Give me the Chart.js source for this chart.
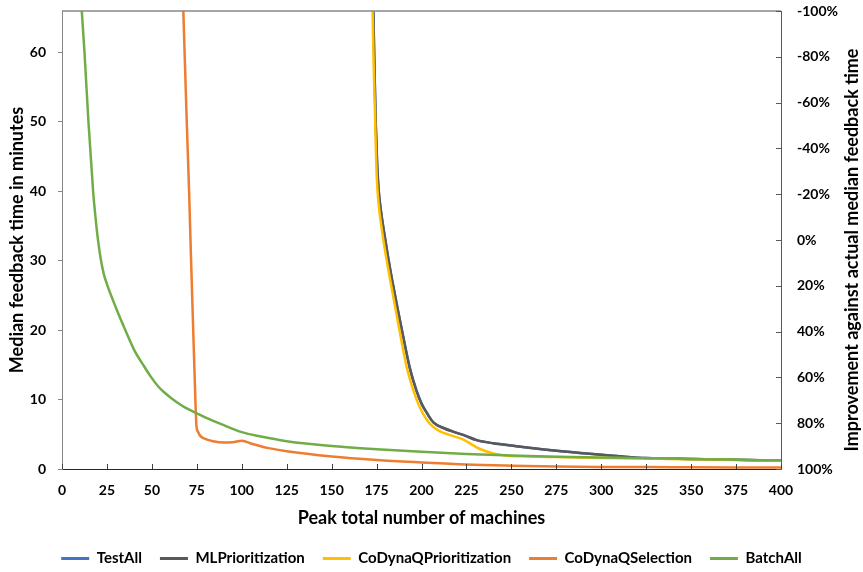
<!DOCTYPE html>
<html>
<head>
<meta charset="utf-8">
<script src="https://cdn.jsdelivr.net/npm/chart.js@4/dist/chart.umd.min.js"></script>
<style>
html,body{margin:0;padding:0;background:#fff;}
#wrap{width:863px;height:572px;position:relative;}
</style>
</head>
<body>
<div id="wrap"><canvas id="c" width="863" height="572"></canvas></div>
<script>
// ---- data ----
const seriesNames = ["TestAll", "MLPrioritization", "CoDynaQPrioritization", "CoDynaQSelection", "BatchAll"];
const seriesColors = ["#4472C4", "#595959", "#FFC000", "#ED7D31", "#70AD47"];

const mlX = [173.2, 173.8, 174.5, 175.3, 176.2, 177.5, 178.8, 181.2, 183.8, 186.6, 190, 193.6, 197.3, 200.1, 202.9, 206.6, 212.2, 219.6, 224.2, 230.7, 240, 251, 269.6, 288.2, 300, 312, 325, 350, 375, 400];
const mlY = [65.9, 58, 50, 44, 40, 37, 34.7, 30.8, 27, 23.2, 18.8, 14.4, 11.2, 9.37, 8.1, 6.7, 5.9, 5.2, 4.8, 4.16, 3.7, 3.34, 2.76, 2.3, 2.06, 1.8, 1.58, 1.43, 1.32, 1.21];

const testAllX = mlX;
const testAllY = mlY;

const cdqPrioX = [172.8, 173.4, 174.1, 174.6, 175.1, 176.2, 177.8, 180, 182.3, 184.5, 188, 191.8, 195.5, 198.2, 201, 204.7, 210.3, 216.8, 222.4, 227, 232.5, 240, 247.4, 260, 275, 300, 325, 350, 375, 400];
const cdqPrioY = [65.9, 58, 51.5, 46, 42, 38, 34.7, 31, 27.6, 24.5, 19.6, 14.6, 11.3, 9.37, 7.9, 6.5, 5.42, 4.8, 4.32, 3.69, 2.88, 2.25, 1.92, 1.8, 1.72, 1.6, 1.5, 1.4, 1.3, 1.19];

const cdqSelX = [67.5, 69.4, 70.7, 71.7, 73.0, 74.2, 74.8, 75.6, 76.8, 80, 84, 90, 95, 100, 106, 115, 125, 150, 175, 200, 225, 250, 275, 300, 325, 350, 375, 400];
const cdqSelY = [65.9, 50, 40, 31, 20, 10, 6.2, 5.4, 4.8, 4.3, 4.0, 3.8, 3.85, 4.08, 3.6, 3.0, 2.55, 1.8, 1.3, 0.95, 0.65, 0.48, 0.36, 0.3, 0.27, 0.25, 0.23, 0.22];

const batchX = [11.0, 12.5, 14.7, 17.3, 18.6, 20, 21.7, 23.3, 25, 30, 35.2, 40.4, 45, 49.1, 53.8, 57, 61.2, 66.8, 70, 75, 80, 90, 100, 110, 125, 150, 175, 200, 225, 250, 275, 300, 325, 350, 375, 400];
const batchY = [65.9, 60, 50, 40, 36.3, 33, 30, 28, 26.6, 23.2, 20, 17, 15.05, 13.4, 11.8, 11.0, 10.1, 9.1, 8.65, 8.0, 7.4, 6.3, 5.3, 4.7, 4.0, 3.3, 2.85, 2.48, 2.17, 1.93, 1.77, 1.65, 1.55, 1.45, 1.33, 1.22];

const xTicksStep = 25;
const leftTicksStep = 10;
const rightTicksStep = 20;
const leftMax = 65.9;

const xTitle = "Peak total number of machines";
const leftTitle = "Median feedback time in minutes";
const rightTitle = "Improvement against actual median feedback time";

// ---- build ----
function pts(xs, ys){ return xs.map((x,i)=>({x:x, y:ys[i]})); }
const seriesData = [pts(testAllX,testAllY), pts(mlX,mlY), pts(cdqPrioX,cdqPrioY), pts(cdqSelX,cdqSelY), pts(batchX,batchY)];
const drawOrder = [5,4,3,2,1];

const FONT = "Lato, 'Open Sans', sans-serif";

const datasets = seriesNames.map((n,i)=>({
  label:n,
  data:seriesData[i],
  borderColor:seriesColors[i],
  backgroundColor:seriesColors[i],
  borderWidth:2.5,
  pointRadius:0,
  pointHoverRadius:0,
  cubicInterpolationMode:'monotone',
  order:drawOrder[i],
  yAxisID:'y'
}));

const framePlugin = {
  id:'frame',
  afterDatasetsDraw(chart){
    const ctx = chart.ctx, a = chart.chartArea;
    const xs = chart.scales.x, yr = chart.scales.y2;
    ctx.save();
    // top border
    ctx.strokeStyle = '#898989'; ctx.lineWidth = 1.5;
    ctx.beginPath(); ctx.moveTo(a.left, a.top); ctx.lineTo(a.right, a.top); ctx.stroke();
    // x inner ticks
    ctx.strokeStyle = '#404040'; ctx.lineWidth = 1;
    xs.ticks.forEach(t=>{
      const px = Math.round(xs.getPixelForValue(t.value))+0.5;
      ctx.beginPath(); ctx.moveTo(px, a.bottom); ctx.lineTo(px, a.bottom-5); ctx.stroke();
    });
    // right inner ticks
    ctx.strokeStyle = '#595959';
    yr.ticks.forEach(t=>{
      const py = Math.round(yr.getPixelForValue(t.value))+0.5;
      ctx.beginPath(); ctx.moveTo(a.right, py); ctx.lineTo(a.right-5, py); ctx.stroke();
    });
    // right title (reads bottom to top)
    ctx.fillStyle = '#000';
    ctx.font = "bold 18px " + FONT;
    ctx.textAlign = 'center'; ctx.textBaseline = 'middle';
    ctx.translate(852, 250);
    ctx.rotate(-Math.PI/2);
    ctx.fillText(rightTitle, 0, 0);
    ctx.restore();
  }
};

function fixV(width){
  return function(s){ s.width = width; s.paddingTop = 0; s.paddingBottom = 0; };
}

new Chart(document.getElementById('c'), {
  type:'line',
  data:{datasets:datasets},
  plugins:[framePlugin],
  options:{
    responsive:false,
    animation:false,
    layout:{padding:{top:11, left:0, right:0, bottom:-4}},
    plugins:{
      tooltip:{enabled:false},
      legend:{
        position:'bottom',
        labels:{
          font:{family:FONT, size:15, weight:'bold'},
          color:'#000',
          boxWidth:28,
          boxHeight:3,
          padding:18,
          sort:(a,b)=>a.datasetIndex-b.datasetIndex,
          generateLabels(chart){
            const items = Chart.defaults.plugins.legend.labels.generateLabels(chart);
            return items.map(it=>Object.assign(it,{lineWidth:0, fillStyle:it.strokeStyle}));
          }
        }
      }
    },
    scales:{
      x:{
        type:'linear', min:0, max:400,
        ticks:{stepSize:xTicksStep, color:'#000', font:{family:FONT, size:14, weight:'bold'}, padding:13, maxRotation:0, autoSkip:false},
        grid:{display:true, drawOnChartArea:false, drawTicks:false},
        border:{display:true, color:'#262626', width:1},
        title:{display:true, text:xTitle, color:'#000', font:{family:FONT, size:18, weight:'bold', lineHeight:1.6}, padding:{top:4,bottom:0}},
        afterFit(s){ s.height = 64; }
      },
      y:{
        type:'linear', position:'left', min:0, max:leftMax,
        ticks:{stepSize:leftTicksStep, includeBounds:false, color:'#000', font:{family:FONT, size:14, weight:'bold'}, padding:12},
        grid:{display:true, drawOnChartArea:false, drawTicks:true, tickLength:4, color:'#868686'},
        border:{display:true, color:'#868686', width:1},
        title:{display:true, text:leftTitle, color:'#000', font:{family:FONT, size:18, weight:'bold'}, padding:{top:6,bottom:0}},
        afterFit:fixV(62)
      },
      y2:{
        type:'linear', position:'right', min:-100, max:100, reverse:true,
        ticks:{stepSize:rightTicksStep, color:'#000', font:{family:FONT, size:14, weight:'bold'}, padding:16, callback:v=>v+'%'},
        grid:{display:true, drawOnChartArea:false, drawTicks:false},
        border:{display:true, color:'#595959', width:1},
        afterFit:fixV(82)
      }
    }
  }
});
</script>
</body>
</html>
